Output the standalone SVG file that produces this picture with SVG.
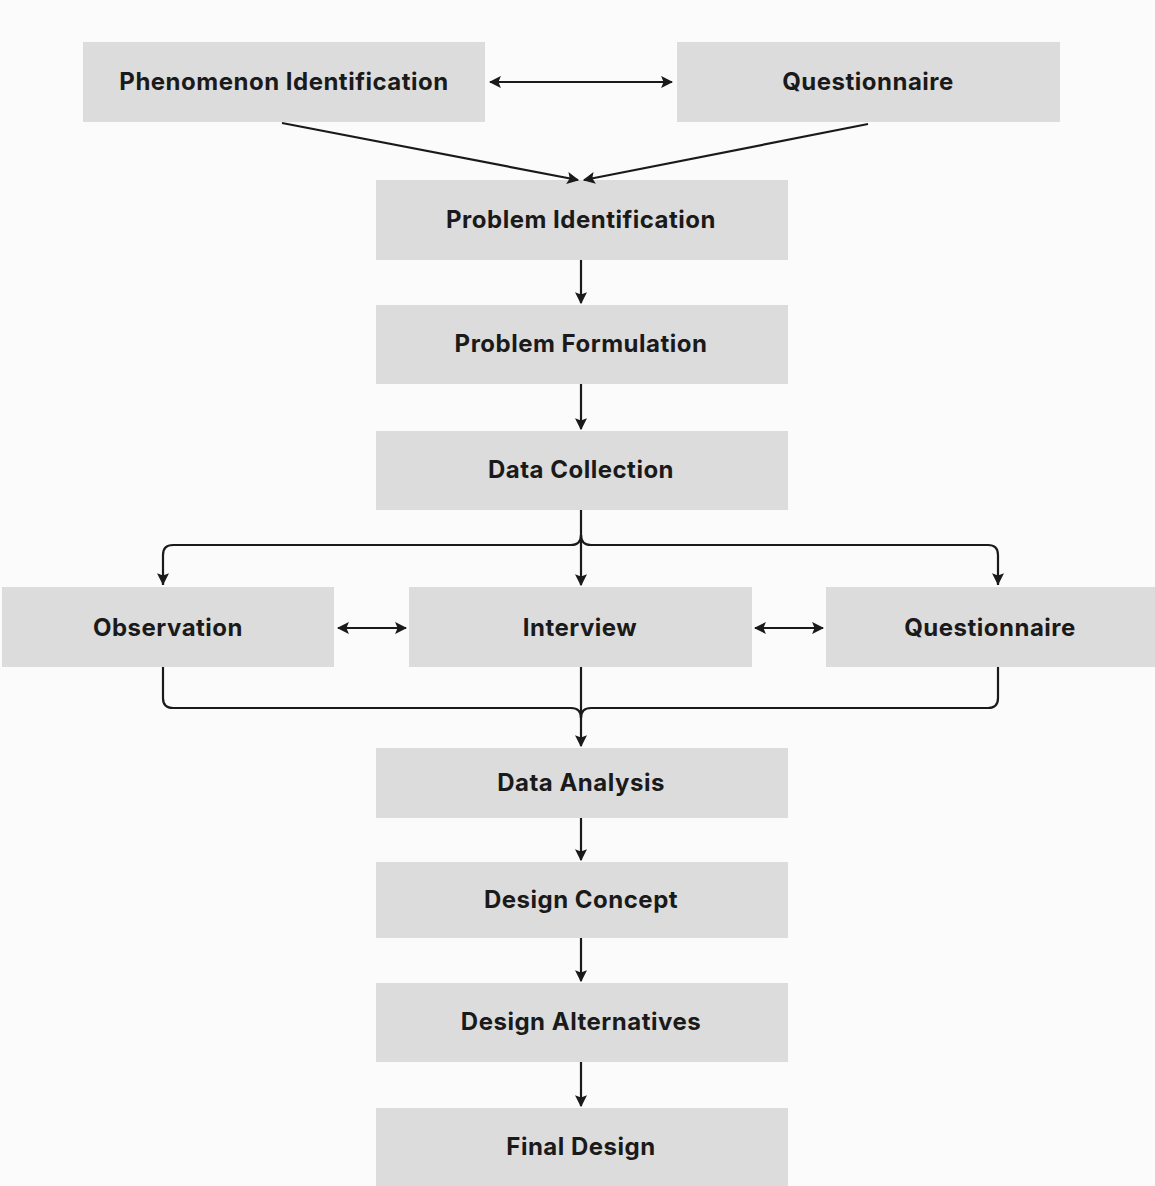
<svg xmlns="http://www.w3.org/2000/svg" width="1155" height="1186" viewBox="0 0 1155 1186">
<style>
.box{fill:#dcdcdc}
.lbl{font-family:Inter,"DejaVu Sans",sans-serif;font-weight:700;font-size:24px;letter-spacing:0.5px;fill:#1a1a1a;text-anchor:middle;dominant-baseline:central}
.ln{stroke:#1a1a1a;stroke-width:2.2;fill:none}
</style>
<defs>
<marker id="ah" viewBox="0 0 10 10" refX="9" refY="5" markerWidth="5.5" markerHeight="5.5" orient="auto-start-reverse" markerUnits="strokeWidth">
<path d="M0,0 L10,5 L0,10 L2,5 z" fill="#1a1a1a"/>
</marker>
</defs>
<rect width="1155" height="1186" fill="#fbfbfb"/>
<g id="n1"><rect class="box" x="83" y="42" width="402" height="80"/><text class="lbl" x="284" y="81">Phenomenon Identification</text></g>
<g id="n2"><rect class="box" x="677" y="42" width="383" height="80"/><text class="lbl" x="868" y="81">Questionnaire</text></g>
<g id="n3"><rect class="box" x="376" y="180" width="412" height="80"/><text class="lbl" x="581" y="219">Problem Identification</text></g>
<g id="n4"><rect class="box" x="376" y="305" width="412" height="79"/><text class="lbl" x="581" y="343">Problem Formulation</text></g>
<g id="n5"><rect class="box" x="376" y="431" width="412" height="79"/><text class="lbl" x="581" y="469">Data Collection</text></g>
<g id="n6"><rect class="box" x="2" y="587" width="332" height="80"/><text class="lbl" x="168" y="627">Observation</text></g>
<g id="n7"><rect class="box" x="409" y="587" width="343" height="80"/><text class="lbl" x="580" y="627">Interview</text></g>
<g id="n8"><rect class="box" x="826" y="587" width="329" height="80"/><text class="lbl" x="990" y="627">Questionnaire</text></g>
<g id="n9"><rect class="box" x="376" y="748" width="412" height="70"/><text class="lbl" x="581" y="782">Data Analysis</text></g>
<g id="n10"><rect class="box" x="376" y="862" width="412" height="76"/><text class="lbl" x="581" y="899">Design Concept</text></g>
<g id="n11"><rect class="box" x="376" y="983" width="412" height="79"/><text class="lbl" x="581" y="1021">Design Alternatives</text></g>
<g id="n12"><rect class="box" x="376" y="1108" width="412" height="78"/><text class="lbl" x="581" y="1146">Final Design</text></g>
<g id="connectors">
<line class="ln" x1="490" y1="82" x2="672" y2="82" marker-start="url(#ah)" marker-end="url(#ah)"/>
<line class="ln" x1="282" y1="123" x2="578" y2="180" marker-end="url(#ah)"/>
<line class="ln" x1="868" y1="124" x2="584" y2="180" marker-end="url(#ah)"/>
<line class="ln" x1="581" y1="260" x2="581" y2="303" marker-end="url(#ah)"/>
<line class="ln" x1="581" y1="384" x2="581" y2="429" marker-end="url(#ah)"/>
<line class="ln" x1="581" y1="510" x2="581" y2="585" marker-end="url(#ah)"/>
<path class="ln" d="M163,585 L163,555 Q163,545 173,545 L571,545 Q581,545 581,535"/>
<path class="ln" d="M998,585 L998,555 Q998,545 988,545 L591,545 Q581,545 581,535"/>
<path class="ln" d="M163,583 L163,584" marker-end="url(#ah)"/>
<path class="ln" d="M998,583 L998,584" marker-end="url(#ah)"/>
<line class="ln" x1="338" y1="628" x2="406" y2="628" marker-start="url(#ah)" marker-end="url(#ah)"/>
<line class="ln" x1="755" y1="628" x2="823" y2="628" marker-start="url(#ah)" marker-end="url(#ah)"/>
<path class="ln" d="M163,667 L163,698 Q163,708 173,708 L571,708 Q581,708 581,718"/>
<path class="ln" d="M998,667 L998,698 Q998,708 988,708 L591,708 Q581,708 581,718"/>
<line class="ln" x1="581" y1="667" x2="581" y2="746" marker-end="url(#ah)"/>
<line class="ln" x1="581" y1="818" x2="581" y2="860" marker-end="url(#ah)"/>
<line class="ln" x1="581" y1="938" x2="581" y2="981" marker-end="url(#ah)"/>
<line class="ln" x1="581" y1="1062" x2="581" y2="1106" marker-end="url(#ah)"/>
</g>
</svg>
